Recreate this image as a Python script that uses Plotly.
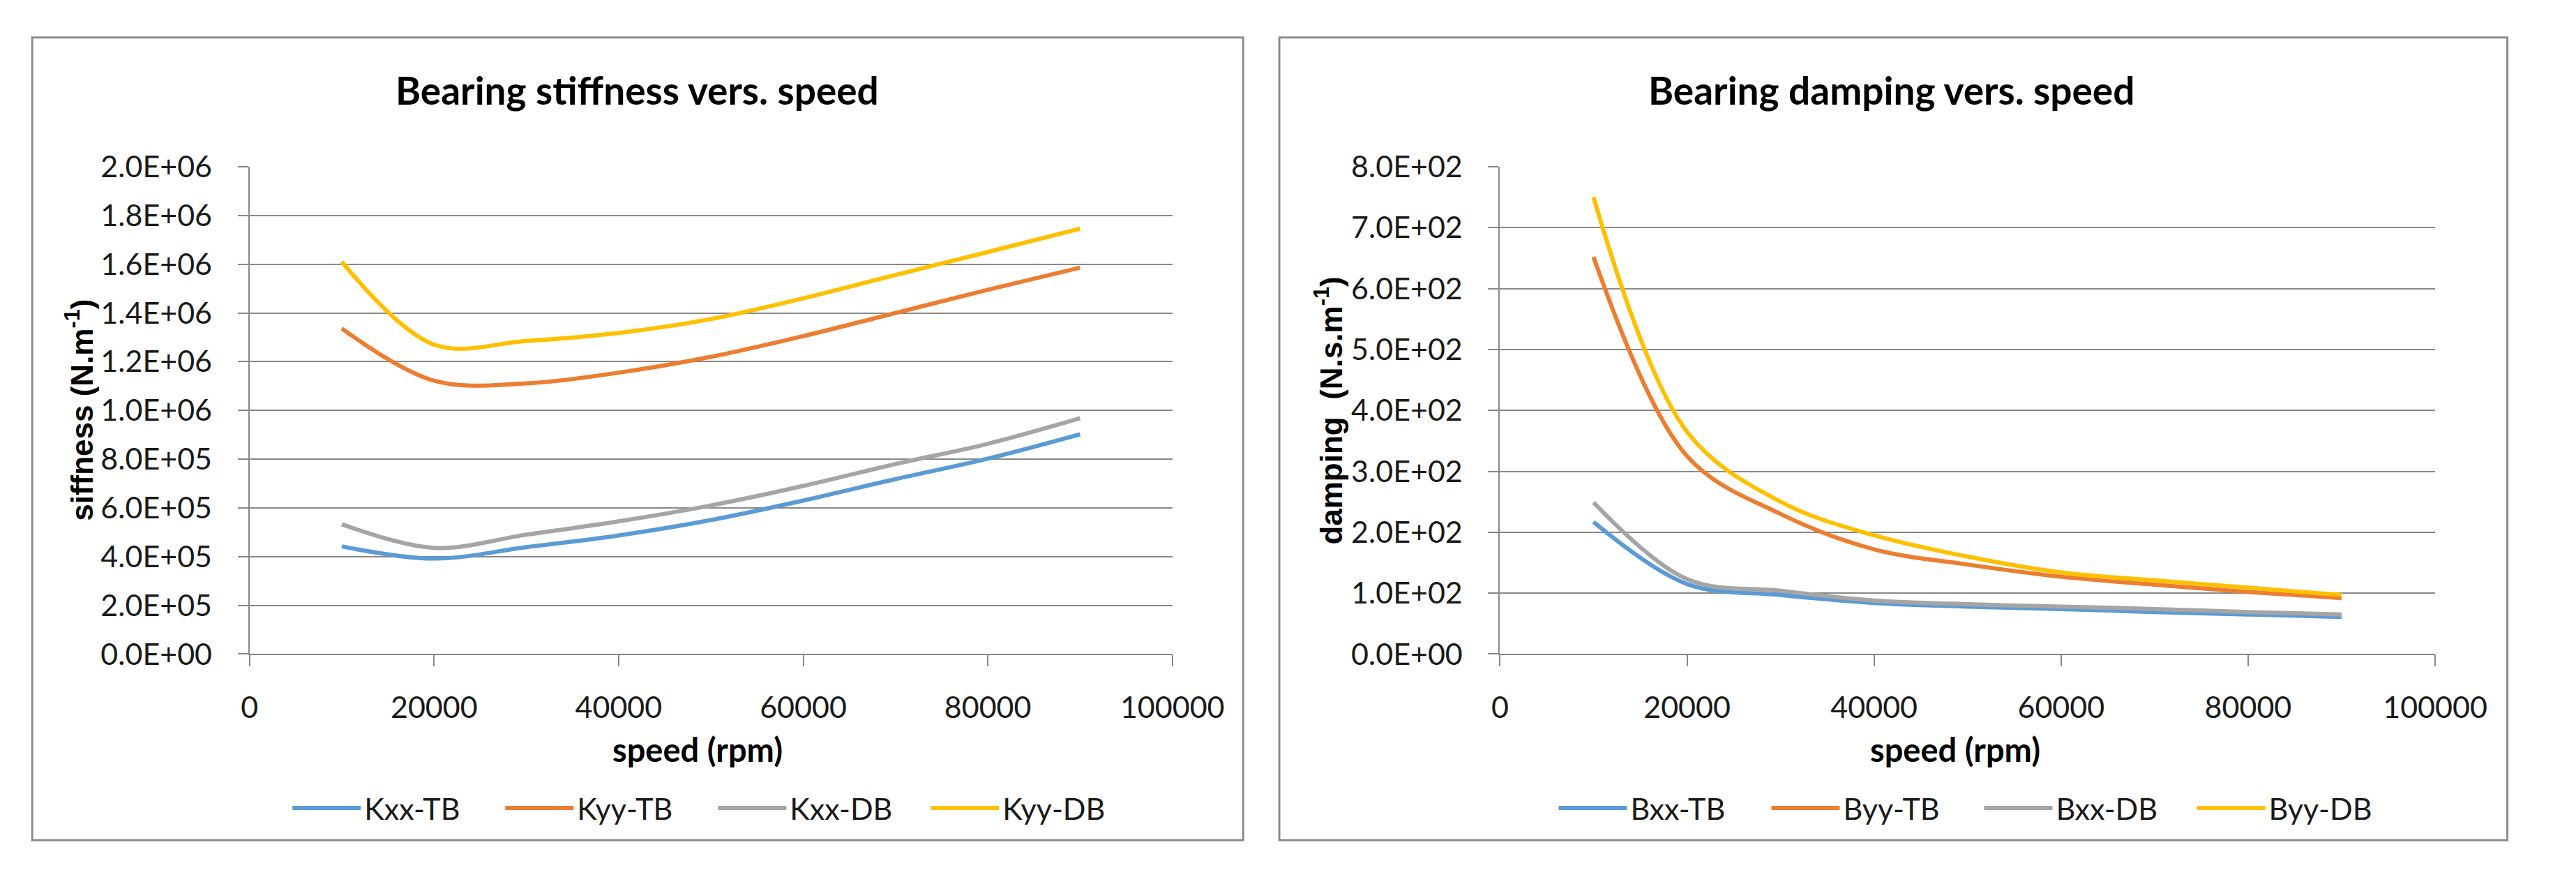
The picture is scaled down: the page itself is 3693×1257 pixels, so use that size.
import plotly.graph_objects as go

# ---------------- data ----------------
speed = [10000, 20000, 30000, 40000, 50000, 60000, 70000, 80000, 90000]

# stiffness (N/m)
kxx_tb = [4.42e5, 3.92e5, 4.39e5, 4.87e5, 5.50e5, 6.30e5, 7.18e5, 8.02e5, 9.02e5]
kyy_tb = [1.336e6, 1.122e6, 1.111e6, 1.155e6, 1.220e6, 1.305e6, 1.400e6, 1.495e6, 1.586e6]
kxx_db = [5.33e5, 4.36e5, 4.90e5, 5.45e5, 6.10e5, 6.90e5, 7.80e5, 8.63e5, 9.68e5]
kyy_db = [1.610e6, 1.270e6, 1.285e6, 1.318e6, 1.375e6, 1.460e6, 1.556e6, 1.650e6, 1.746e6]

# damping (N.s/m)
bxx_tb = [217, 115, 97, 84, 78, 74, 69, 65, 61]
byy_tb = [652, 325, 230, 172, 147, 127, 114, 102, 92]
bxx_db = [249, 123, 104, 88, 82, 78, 74, 69, 65]
byy_db = [750, 365, 250, 195, 160, 134, 121, 109, 97]

stiff_names = ["Kxx-TB", "Kyy-TB", "Kxx-DB", "Kyy-DB"]
damp_names = ["Bxx-TB", "Byy-TB", "Bxx-DB", "Byy-DB"]

x_tick_vals = [0, 20000, 40000, 60000, 80000, 100000]
x_tick_text = ["0", "20000", "40000", "60000", "80000", "100000"]

stiff_tick_vals = [0, 2e5, 4e5, 6e5, 8e5, 1e6, 1.2e6, 1.4e6, 1.6e6, 1.8e6, 2e6]
stiff_tick_text = ["0.0E+00", "2.0E+05", "4.0E+05", "6.0E+05", "8.0E+05", "1.0E+06",
                   "1.2E+06", "1.4E+06", "1.6E+06", "1.8E+06", "2.0E+06"]
damp_tick_vals = [0, 100, 200, 300, 400, 500, 600, 700, 800]
damp_tick_text = ["0.0E+00", "1.0E+02", "2.0E+02", "3.0E+02", "4.0E+02", "5.0E+02",
                  "6.0E+02", "7.0E+02", "8.0E+02"]

colors = ["#5B9BD5", "#ED7D31", "#A5A5A5", "#FFC000"]

# ---------------- layout helpers ----------------
W, H = 3693, 1257


def px(x):
    return x / W


def py(y):
    return 1 - y / H


GRID = "#898989"
TXT = "#1a1a1a"
TICKFONT = dict(family="Lato", size=43, color=TXT)

fig = go.Figure()

for name, ys, c in zip(stiff_names, [kxx_tb, kyy_tb, kxx_db, kyy_db], colors):
    fig.add_trace(go.Scatter(x=speed, y=ys, name=name, mode="lines",
                             line=dict(color=c, width=6, shape="spline", smoothing=1.0),
                             xaxis="x", yaxis="y", legend="legend"))

for name, ys, c in zip(damp_names, [bxx_tb, byy_tb, bxx_db, byy_db], colors):
    fig.add_trace(go.Scatter(x=speed, y=ys, name=name, mode="lines",
                             line=dict(color=c, width=6, shape="spline", smoothing=1.0),
                             xaxis="x2", yaxis="y2", legend="legend2"))

xcommon = dict(range=[0, 100000], tickvals=x_tick_vals, ticktext=x_tick_text,
               showgrid=False, zeroline=False, showline=True, linecolor=GRID, linewidth=2,
               ticks="outside", ticklen=16, tickwidth=2, tickcolor=GRID,
               tickfont=TICKFONT, ticklabelstandoff=22, fixedrange=True)
ycommon = dict(showgrid=True, gridcolor=GRID, gridwidth=2, zeroline=False,
               showline=True, linecolor=GRID, linewidth=2,
               ticks="outside", ticklen=15, tickwidth=2, tickcolor=GRID,
               tickfont=TICKFONT, ticklabelstandoff=28, fixedrange=True)

ydom = [py(949), py(221)]

legend_common = dict(orientation="h", yanchor="middle", xanchor="left",
                     font=dict(family="Lato", size=43, color=TXT),
                     itemwidth=98, entrywidth=192, entrywidthmode="pixels",
                     bgcolor="rgba(0,0,0,0)", borderwidth=0)

fig.update_layout(
    width=W, height=H, autosize=False,
    margin=dict(l=0, r=0, t=0, b=0, pad=0),
    paper_bgcolor="white", plot_bgcolor="white",
    showlegend=True,
    xaxis=dict(domain=[px(354), px(1709)], anchor="y", **xcommon),
    yaxis=dict(domain=ydom, anchor="x", range=[0, 2e6],
               tickvals=stiff_tick_vals, ticktext=stiff_tick_text, **ycommon),
    xaxis2=dict(domain=[px(2190), px(3563)], anchor="y2", **xcommon),
    yaxis2=dict(domain=ydom, anchor="x2", range=[0, 800],
                tickvals=damp_tick_vals, ticktext=damp_tick_text, **ycommon),
    legend=dict(x=px(412), y=py(1179), **legend_common),
    legend2=dict(x=px(2271), y=py(1179), **legend_common),
    shapes=[
        dict(type="rect", xref="paper", yref="paper", x0=px(35), x1=px(1813),
             y0=py(1227), y1=py(28), line=dict(color="#8c8c8c", width=3),
             fillcolor="rgba(0,0,0,0)", layer="below"),
        dict(type="rect", xref="paper", yref="paper", x0=px(1866), x1=px(3669),
             y0=py(1227), y1=py(28), line=dict(color="#8c8c8c", width=3),
             fillcolor="rgba(0,0,0,0)", layer="below"),
    ],
)

title_font = dict(family="Lato", size=55, color="#000000", weight="bold")
axis_title_font = dict(family="Lato", size=47, color="#000000", weight="bold")
ytitle_font = dict(family="Liberation Sans", size=44, color="#000000", weight="bold")

annotations = [
    dict(text="Bearing stiffness vers. speed", x=px(923), y=py(106), font=title_font),
    dict(text="Bearing damping vers. speed", x=px(2765), y=py(106), font=title_font),
    dict(text="speed (rpm)", x=px(1012), y=py(1091), font=axis_title_font),
    dict(text="speed (rpm)", x=px(2858), y=py(1091), font=axis_title_font),
    dict(text="siffness (N.m<sup>-1</sup>)", x=px(104), y=py(585), textangle=-90,
         font=ytitle_font),
    dict(text="damping  (N.s.m<sup>-1</sup>)", x=px(1938), y=py(585), textangle=-90,
         font=ytitle_font),
]
for a in annotations:
    a.update(xref="paper", yref="paper", xanchor="center", yanchor="middle",
             showarrow=False)
fig.update_layout(annotations=annotations)

fig.write_html(
    "out.html", config={"displayModeBar": False},
    post_script=("document.body.style.margin='0';"
                 "document.body.style.overflow='hidden';"
                 "document.documentElement.style.overflow='hidden';"))
